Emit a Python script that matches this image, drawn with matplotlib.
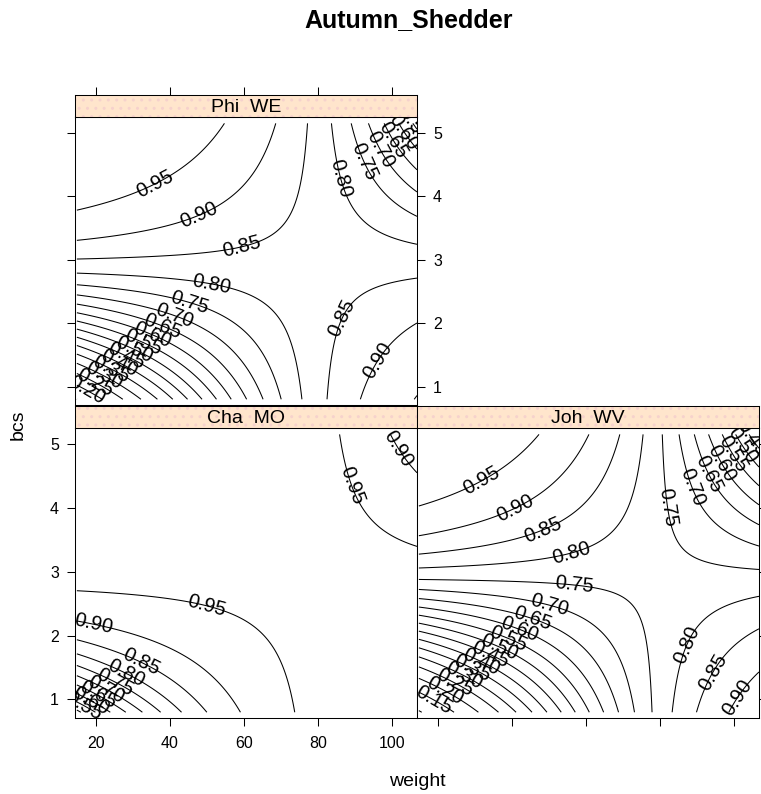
import numpy as np
import matplotlib
matplotlib.use("Agg")
from matplotlib import pyplot as plt
from matplotlib.patches import Rectangle

plt.rcParams['font.family'] = ['Liberation Sans', 'DejaVu Sans']
plt.rcParams['hatch.linewidth'] = 1.0

# logistic model per site: intercept, weight, bcs, weight:bcs
# (estimated from contour positions)
phi_coef = [-4.03839, 0.07064, 1.92787, -0.02417]
cha_coef = [-2.35533, 0.07024, 1.93416, -0.02418]
joh_coef = [-4.60009, 0.07282, 1.97344, -0.02489]

sites = ["Phi  WE", "Cha  MO", "Joh  WV"]
weight_range = [14.8, 106.8]
bcs_range = [0.80, 5.15]
levels = [0.05, 0.10, 0.15, 0.20, 0.25, 0.30, 0.35, 0.40, 0.45, 0.50,
          0.55, 0.60, 0.65, 0.70, 0.75, 0.80, 0.85, 0.90, 0.95]
x_ticks = [20, 40, 60, 80, 100]
y_ticks = [1, 2, 3, 4, 5]


def prob(beta, w, b):
    return 1 / (1 + np.exp(-(beta[0] + beta[1] * w + beta[2] * b + beta[3] * w * b)))


def label_spots(beta, segs):
    # where each contour level crosses the given label paths
    spots = []
    t = np.linspace(0, 1, 600)
    for (w0, b0), (w1, b1) in segs:
        sw = w0 + t * (w1 - w0)
        sb = b0 + t * (b1 - b0)
        pv = prob(beta, sw, sb)
        for lv in levels:
            d = pv - lv
            for i in np.where(np.sign(d[:-1]) != np.sign(d[1:]))[0]:
                spots.append((sw[i], sb[i]))
    return spots


fig = plt.figure(figsize=(7.61, 7.94), dpi=100)


def px_axes(x0, y0, x1, y1):
    return fig.add_axes([x0 / 761, 1 - y1 / 794, (x1 - x0) / 761, (y1 - y0) / 794])


ww = np.linspace(weight_range[0], weight_range[1], 250)
bb = np.linspace(bcs_range[0], bcs_range[1], 250)
W, B = np.meshgrid(ww, bb)

panels = [
    (sites[0], (75, 117, 417, 405), phi_coef,
     [((30, 4.45), (62, 3.1)), ((56, 2.85), (15.5, 0.85)),
      ((84, 4.2), (106.5, 5.15)), ((82, 2.4), (104, 0.85))],
     dict(left=True, right=True, labelright=True, labelleft=False, bottom=False, labelbottom=False)),
    (sites[1], (75, 428, 417, 718), cha_coef,
     [((86, 4.2), (105.5, 5.1)), ((50, 2.4), (50, 2.75)), ((19.3, 2.05), (19.3, 2.45)),
      ((36, 1.75), (15.5, 0.85))],
     dict(left=True, labelleft=True, right=False, bottom=True, labelbottom=True)),
    (sites[2], (417, 428, 759, 718), joh_coef,
     [((28, 4.6), (58, 3.2)), ((60, 2.95), (16, 0.85)),
      ((80, 3.9), (106, 5.15)), ((83, 2.1), (104, 0.85))],
     dict(left=False, labelleft=False, right=True, labelright=False, bottom=True, labelbottom=False)),
]

for name, box, beta, segs, tick_opts in panels:
    ax = px_axes(*box)
    Z = prob(beta, W, B)
    cs = ax.contour(W, B, Z, levels=levels, colors='black', linewidths=0.75)
    ax.clabel(cs, manual=label_spots(beta, segs), inline=False, fontsize=14.5)
    ax.set_xlim(14.3, 106.8)
    ax.set_ylim(0.71, 5.25)
    ax.set_xticks(x_ticks)
    ax.set_yticks(y_ticks)
    ax.tick_params(direction='out', length=5.6, width=0.75, labelsize=11.5,
                   top=False, **tick_opts)
    ax.tick_params(axis='x', pad=7)
    ax.tick_params(axis='y', pad=6)
    for s in ax.spines.values():
        s.set_linewidth(0.75)

    # strip above the panel
    sx = px_axes(box[0], box[1] - 22, box[2], box[1])
    sx.set_facecolor('#ffe5cc')
    sx.add_patch(Rectangle((0, 0), 1, 1, transform=sx.transAxes, fill=False,
                           hatch='..', edgecolor='#f6d2cc', linewidth=0))
    sx.set_xlim(14.3, 106.8)
    sx.set_yticks([])
    if name == sites[0]:
        sx.set_xticks(x_ticks)
        sx.tick_params(axis='x', direction='out', length=5.6, width=0.75,
                       bottom=False, labelbottom=False, top=True, labeltop=False)
    else:
        sx.set_xticks([])
    for s in sx.spines.values():
        s.set_linewidth(0.75)
    sx.text(0.5, 0.45, name, ha='center', va='center', fontsize=14, transform=sx.transAxes)

fig.text(409 / 761, 1 - 20 / 794, "Autumn_Shedder", ha='center', va='center',
         fontsize=18, fontweight='bold')
fig.text(417 / 761, 1 - 781 / 794, "weight", ha='center', va='center', fontsize=14)
fig.text(18 / 761, 1 - 425 / 794, "bcs", ha='center', va='center', fontsize=14, rotation=90)

fig.savefig("out.png", dpi=100)
